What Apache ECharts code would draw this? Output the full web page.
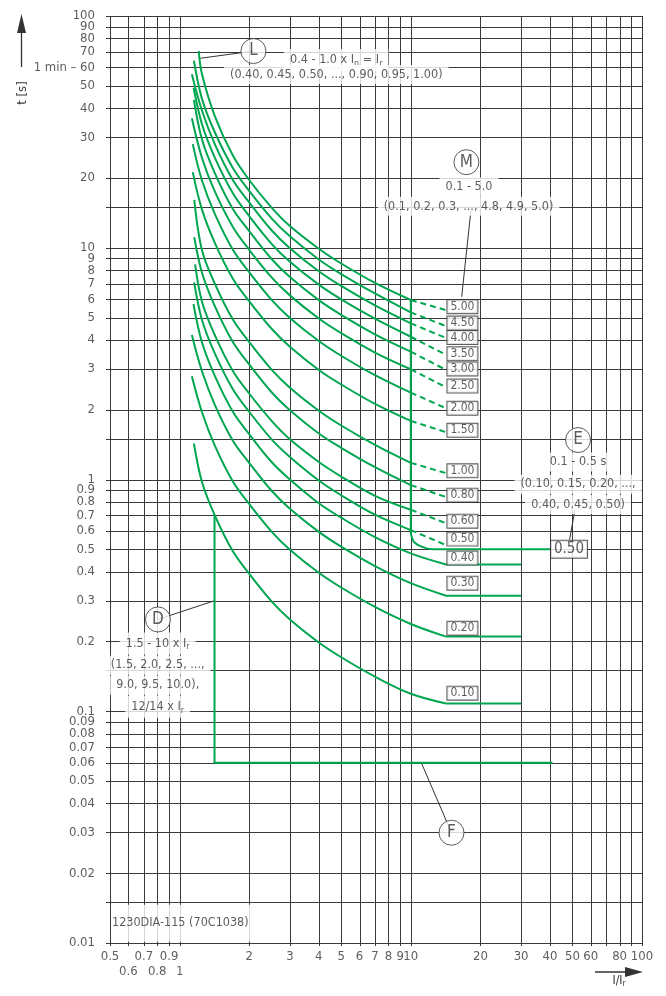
<!DOCTYPE html>
<html>
<head>
<meta charset="utf-8">
<script src="https://cdn.jsdelivr.net/npm/echarts@6/dist/echarts.min.js"></script>
<style>
  html, body { margin: 0; padding: 0; background: #fff; }
  #chart { width: 666px; height: 996px; }
</style>
</head>
<body>
<div id="chart"></div>
<script>
const FONT = "'Liberation Sans Narrow', 'DejaVu Sans Condensed', 'Open Sans', sans-serif";
const INK = '#333';
const GRID = '#3a3a3a';
const GREEN = '#00a650';

const X_MIN = 0.5, X_MAX = 100, Y_MIN = 0.01, Y_MAX = 100;

// grid lines (I/Ir and t [s])
const gridX = [0.5, 0.6, 0.7, 0.8, 0.9, 1, 2, 3, 4, 5, 6, 7, 8, 9, 10, 20, 30, 40, 50, 60, 70, 80, 90, 100];
const gridY = [0.01, 0.015, 0.02, 0.03, 0.04, 0.05, 0.06, 0.07, 0.08, 0.09,
  0.1, 0.15, 0.2, 0.3, 0.4, 0.5, 0.6, 0.7, 0.8, 0.9,
  1, 1.5, 2, 3, 4, 5, 6, 7, 8, 9,
  10, 15, 20, 30, 40, 50, 60, 70, 80, 90, 100];

// tick labels
const yTickValues = [100, 90, 80, 70, 60, 50, 40, 30, 20, 10, 9, 8, 7, 6, 5, 4, 3, 2, 1,
  0.9, 0.8, 0.7, 0.6, 0.5, 0.4, 0.3, 0.2, 0.1, 0.09, 0.08, 0.07, 0.06, 0.05, 0.04, 0.03, 0.02, 0.01];
const yTickLabels = ['100', '90', '80', '70', '1 min \u2013 60', '50', '40', '30', '20', '10', '9', '8', '7', '6', '5', '4', '3', '2', '1',
  '0.9', '0.8', '0.7', '0.6', '0.5', '0.4', '0.3', '0.2', '0.1', '0.09', '0.08', '0.07', '0.06', '0.05', '0.04', '0.03', '0.02', '0.01'];
const xTickRow1 = [0.5, 0.7, 0.9, 2, 3, 4, 5, 6, 7, 8, 9, 10, 20, 30, 40, 50, 60, 80, 100];
const xTickRow1Labels = ['0.5', '0.7', '0.9', '2', '3', '4', '5', '6', '7', '8', '9', '10', '20', '30', '40', '50', '60', '80', '100'];
const xTickRow2 = [0.6, 0.8, 1];
const xTickRow2Labels = ['0.6', '0.8', '1'];

// long-time curves, one row per M setting
const mSettings = ['5.00', '4.50', '4.00', '3.50', '3.00', '2.50', '2.00', '1.50', '1.00', '0.80', '0.60', '0.50', '0.40', '0.30', '0.20', '0.10'];
const curveStart = [[1.21, 70.6], [1.153, 64.1], [1.13, 56], [1.15, 49], [1.153, 43.4], [1.13, 36.2], [1.14, 28], [1.14, 21.2],
  [1.157, 16.1], [1.157, 11.1], [1.167, 8.48], [1.156, 7.09], [1.148, 5.71], [1.13, 4.2], [1.13, 2.79], [1.153, 1.43]];
const curveX = [1.25, 1.42, 1.7, 2, 2.5, 3, 4, 5, 7, 10];
const curveT = [
  [56, 37, 25, 19.6, 14.9, 12.4, 9.9, 8.55, 7.05, 5.95],
  [43.9, 31.5, 22.1, 17.6, 13.4, 11.2, 8.9, 7.7, 6.35, 5.26],
  [39, 28, 19.6, 15.7, 11.9, 9.96, 7.92, 6.84, 5.64, 4.72],
  [34.1, 24.5, 17.2, 13.7, 10.4, 8.7, 6.93, 5.99, 4.94, 4.13],
  [29.3, 21, 14.7, 11.8, 8.94, 7.47, 5.94, 5.13, 4.23, 3.56],
  [24.4, 17.5, 12.3, 9.8, 7.45, 6.23, 4.95, 4.28, 3.53, 2.99],
  [19.5, 14, 9.8, 7.84, 5.96, 4.98, 3.96, 3.42, 2.82, 2.37],
  [14.6, 10.5, 7.35, 5.88, 4.47, 3.74, 2.97, 2.57, 2.12, 1.79],
  [9.75, 7.0, 4.9, 3.92, 2.98, 2.49, 1.98, 1.71, 1.41, 1.18],
  [7.8, 5.6, 3.92, 3.14, 2.38, 1.99, 1.58, 1.37, 1.13, 0.946],
  [5.85, 4.2, 2.94, 2.35, 1.79, 1.49, 1.19, 1.03, 0.85, 0.74],
  [4.88, 3.5, 2.45, 1.96, 1.49, 1.25, 0.99, 0.855, 0.705, 0.605],
  [3.9, 2.8, 1.96, 1.57, 1.19, 1.0, 0.79, 0.684, 0.564, 0.48],
  [2.93, 2.1, 1.47, 1.18, 0.894, 0.747, 0.594, 0.513, 0.423, 0.357],
  [1.95, 1.4, 0.98, 0.784, 0.596, 0.498, 0.396, 0.342, 0.282, 0.238],
  [0.975, 0.70, 0.49, 0.392, 0.298, 0.249, 0.198, 0.171, 0.141, 0.119]
];
// dashed continuation 10 -> 14.2 (settings 5.00 .. 0.50)
const dashX = [10, 14.2];
const dashEnd = [5.38, 4.59, 4.08, 3.45, 2.97, 2.50, 2.03, 1.60, 1.066, 0.84, 0.648, 0.521];
// solid continuation 10 -> 14.2 and short-time plateau to 30 (settings 0.40 .. 0.10)
const plateauX = [14.2, 30];
const plateauT = [0.43, 0.315, 0.21, 0.108];
// boxed setting labels
const boxX = 14.4;
const boxT = [5.57, 4.73, 4.10, 3.49, 3.00, 2.53, 2.03, 1.63, 1.09, 0.856, 0.661, 0.553, 0.458, 0.357, 0.228, 0.1197];

// short-time delay E (vertical at 10, down to 0.50 s)
const eLine = [[10, 5.95], [10, 0.59], [10.3, 0.54], [11.2, 0.512], [12.4, 0.5], [40, 0.5]];
// D pickup and F instantaneous
const dfLine = [[1.416, 0.70], [1.416, 0.06], [41, 0.06]];

// annotations (anchor in data space)
const noteLines = [
  [4.76, 64.6, '0.4 - 1.0 x I{s|n} = I{s|r}'],
  [4.76, 55.9, '(0.40, 0.45, 0.50, ..., 0.90, 0.95, 1.00)'],
  [17.85, 18.3, '0.1 - 5.0'],
  [17.77, 15.1, '(0.1, 0.2, 0.3, ..., 4.8, 4.9, 5.0)'],
  [52.9, 1.19, '0.1 - 0.5 s'],
  [52.9, 0.955, '(0.10, 0.15, 0.20, ...,'],
  [52.9, 0.781, '0.40, 0.45, 0.50)'],
  [0.804, 0.196, '1.5 - 10 x I{s|r}'],
  [0.804, 0.158, '(1.5, 2.0, 2.5, ...,'],
  [0.804, 0.1296, '9.0, 9.5, 10.0),'],
  [0.804, 0.1045, '12/14 x I{s|r}']
];
const circles = [[2.086, 70.6, 'L'], [17.4, 23.4, 'M'], [52.9, 1.48, 'E'], [0.806, 0.249, 'D'], [15.0, 0.0299, 'F']];
const leaders = [
  [[2.086, 70.6], [1.23, 65.7]],
  [[18.2, 14.5], [16.6, 6.15]],
  [[51.3, 0.74], [48.6, 0.55]],
  [[0.806, 0.249], [1.416, 0.30]],
  [[15.0, 0.0299], [11.1, 0.06]]
];
const eBox = [40, 0.5, '0.50'];
const footnote = [0.5, 0.01218, '1230DIA-115 (70C1038)'];

const subRich = { s: { fontSize: 9, fontFamily: FONT, color: INK, padding: [7, 0, 0, 0] } };

const chart = echarts.init(document.getElementById('chart'), null, { renderer: 'canvas' });

const series = [];

// grid: horizontal lines with a short tick on the left
series.push({
  type: 'custom', z: 1, silent: true,
  data: gridY.map(v => [X_MIN, v]),
  renderItem(params, api) {
    const a = api.coord([X_MIN, api.value(1)]);
    const b = api.coord([X_MAX, api.value(1)]);
    const y = Math.round(a[1]) + 0.5;
    return { type: 'line', shape: { x1: a[0] - 4, y1: y, x2: b[0] + 0.5, y2: y }, style: { stroke: GRID, lineWidth: 1 } };
  }
});
// grid: vertical lines with a short tick below
series.push({
  type: 'custom', z: 1, silent: true,
  data: gridX.map(v => [v, Y_MIN]),
  renderItem(params, api) {
    const a = api.coord([api.value(0), Y_MAX]);
    const b = api.coord([api.value(0), Y_MIN]);
    const x = Math.round(a[0]) + 0.5;
    return { type: 'line', shape: { x1: x, y1: a[1], x2: x, y2: b[1] + 3 }, style: { stroke: GRID, lineWidth: 1 } };
  }
});

// leader lines
leaders.forEach(seg => series.push({
  type: 'line', z: 2, silent: true, symbol: 'none', data: seg,
  lineStyle: { color: INK, width: 1 }
}));

// annotation text with white knock-out
series.push({
  type: 'scatter', z: 3, silent: true, symbolSize: 0,
  data: noteLines,
  label: {
    show: true, position: 'inside', formatter: p => p.data[2],
    color: INK, fontFamily: FONT, fontSize: 12.5, backgroundColor: '#fff', padding: [3, 6],
    rich: subRich
  }
});

// footnote
series.push({
  type: 'scatter', z: 3, silent: true, symbolSize: 0,
  data: [footnote],
  label: {
    show: true, position: 'right', distance: 1, formatter: p => p.data[2],
    color: INK, fontFamily: FONT, fontSize: 12.5, backgroundColor: '#fff', padding: [12, 3, 12, 1]
  }
});

// y tick labels
series.push({
  type: 'scatter', z: 3, silent: true, symbolSize: 0,
  data: yTickValues.map((v, i) => [X_MIN, v, yTickLabels[i]]),
  label: { show: true, position: 'left', distance: 15, formatter: p => p.data[2], color: INK, fontFamily: FONT, fontSize: 13 }
});
// x tick labels, two rows
series.push({
  type: 'scatter', z: 3, silent: true, symbolSize: 0,
  data: xTickRow1.map((v, i) => [v, Y_MIN, xTickRow1Labels[i]]),
  label: { show: true, position: 'bottom', distance: 7, formatter: p => p.data[2], color: INK, fontFamily: FONT, fontSize: 13 }
});
series.push({
  type: 'scatter', z: 3, silent: true, symbolSize: 0,
  data: xTickRow2.map((v, i) => [v, Y_MIN, xTickRow2Labels[i]]),
  label: { show: true, position: 'bottom', distance: 22, formatter: p => p.data[2], color: INK, fontFamily: FONT, fontSize: 13 }
});

// long-time curves
const nFlat = mSettings.length - plateauT.length;
mSettings.forEach((m, i) => {
  const data = [curveStart[i]].concat(curveX.map((x, j) => [x, curveT[i][j]]));
  const k = i - nFlat;
  if (k >= 0) {
    data.push([plateauX[0], plateauT[k]]);
  }
  series.push({
    type: 'line', z: 4, silent: true, symbol: 'none', smooth: 0.35, data,
    lineStyle: { color: GREEN, width: 2 }
  });
  if (k >= 0) {
    series.push({
      type: 'line', z: 4, silent: true, symbol: 'none',
      data: [[plateauX[0], plateauT[k]], [plateauX[1], plateauT[k]]],
      lineStyle: { color: GREEN, width: 2 }
    });
  }
  if (i < dashEnd.length) {
    series.push({
      type: 'line', z: 4, silent: true, symbol: 'none',
      data: [[dashX[0], curveT[i][curveT[i].length - 1]], [dashX[1], dashEnd[i]]],
      lineStyle: { color: GREEN, width: 2, type: [6, 4] }
    });
  }
});

// E, D and F lines
series.push({ type: 'line', z: 4, silent: true, symbol: 'none', smooth: 0.2, data: eLine, lineStyle: { color: GREEN, width: 2 } });
series.push({ type: 'line', z: 4, silent: true, symbol: 'none', data: dfLine, lineStyle: { color: GREEN, width: 2 } });

// circled letters
series.push({
  type: 'scatter', z: 5, silent: true, symbol: 'circle', symbolSize: 25,
  data: circles,
  itemStyle: { color: '#fff', borderColor: INK, borderWidth: 1 },
  label: { show: true, position: 'inside', formatter: p => p.data[2], color: INK, fontFamily: FONT, fontSize: 17 }
});

// boxed setting values
series.push({
  type: 'scatter', z: 6, silent: true, symbolSize: 0,
  data: mSettings.map((m, i) => [boxX, boxT[i], m]),
  label: {
    show: true, position: 'right', distance: 0, formatter: p => p.data[2],
    color: INK, fontFamily: FONT, fontSize: 12, lineHeight: 12,
    backgroundColor: '#fff', borderColor: INK, borderWidth: 1, padding: [1, 3, 0, 3]
  }
});
series.push({
  type: 'scatter', z: 6, silent: true, symbolSize: 0,
  data: [eBox],
  label: {
    show: true, position: 'right', distance: 1, formatter: p => p.data[2],
    color: INK, fontFamily: FONT, fontSize: 15, lineHeight: 15,
    backgroundColor: '#fff', borderColor: INK, borderWidth: 1, padding: [1, 3, 1, 3]
  }
});

chart.setOption({
  animation: false,
  backgroundColor: '#fff',
  textStyle: { fontFamily: FONT },
  grid: { left: 110, right: 24, top: 16, bottom: 53, containLabel: false },
  xAxis: {
    type: 'log', logBase: 10, min: X_MIN, max: X_MAX,
    axisLine: { show: false }, axisTick: { show: false }, axisLabel: { show: false }, splitLine: { show: false }
  },
  yAxis: {
    type: 'log', logBase: 10, min: Y_MIN, max: Y_MAX,
    axisLine: { show: false }, axisTick: { show: false }, axisLabel: { show: false }, splitLine: { show: false }
  },
  graphic: [
    // t [s] arrow and title
    { type: 'line', shape: { x1: 21.5, y1: 30, x2: 21.5, y2: 67 }, style: { stroke: INK, lineWidth: 1.3 } },
    { type: 'polygon', shape: { points: [[21.5, 14], [17, 33], [26, 33]] }, style: { fill: INK } },
    { type: 'text', x: 23, y: 93, rotation: Math.PI / 2,
      style: { text: 't [s]', fill: INK, font: "13px " + FONT, align: 'center', verticalAlign: 'middle' } },
    // I/Ir arrow and title
    { type: 'line', shape: { x1: 595, y1: 972, x2: 628, y2: 972 }, style: { stroke: INK, lineWidth: 1.3 } },
    { type: 'polygon', shape: { points: [[643, 972], [625, 967], [625, 977]] }, style: { fill: INK } },
    { type: 'text', x: 619, y: 981,
      style: { text: 'I/I{s|r}', fill: INK, font: "12px " + FONT, align: 'center', verticalAlign: 'middle',
        rich: { s: { fontSize: 8, fontFamily: FONT, fill: INK, padding: [6, 0, 0, 0] } } } }
  ],
  series
});
</script>
</body>
</html>
